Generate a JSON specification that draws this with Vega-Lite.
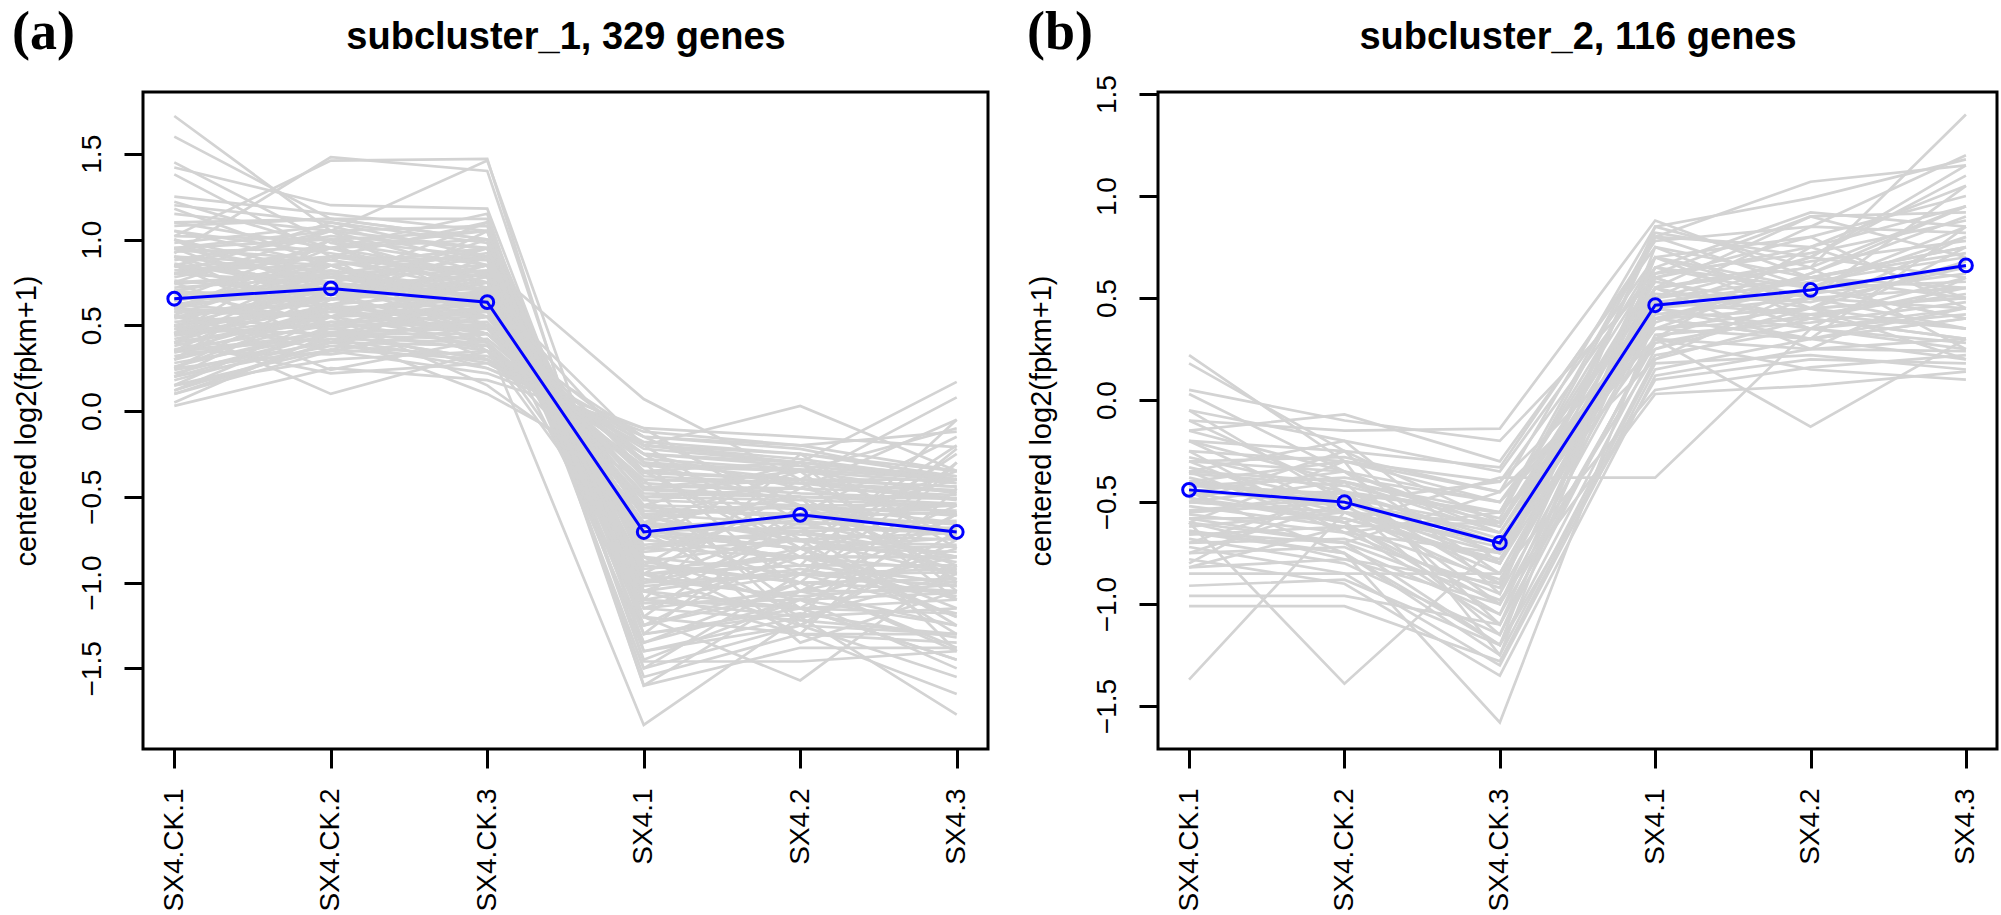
{
"$schema": "https://vega.github.io/schema/vega-lite/v6.json",
"background": "white",
"padding": {"left": 10, "top": 4, "right": 5, "bottom": 0},
"spacing": 35,
"config": {
 "view": {"stroke": "black", "strokeWidth": 3},
 "axis": {"labelFont": "Liberation Sans", "titleFont": "Liberation Sans", "labelColor": "black", "titleColor": "black", "tickColor": "black", "grid": false},
 "title": {"color": "black"}
},
"datasets": {
"am": [{"s":"SX4.CK.1","v":0.655},{"s":"SX4.CK.2","v":0.715},{"s":"SX4.CK.3","v":0.635},{"s":"SX4.1","v":-0.705},{"s":"SX4.2","v":-0.605},{"s":"SX4.3","v":-0.705}],
"bm": [{"s":"SX4.CK.1","v":-0.44},{"s":"SX4.CK.2","v":-0.5},{"s":"SX4.CK.3","v":-0.7},{"s":"SX4.1","v":0.465},{"s":"SX4.2","v":0.54},{"s":"SX4.3","v":0.66}],
"a": [
{"g":1,"s":"SX4.CK.1","v":1.72},{"g":1,"s":"SX4.CK.2","v":1.05},{"g":1,"s":"SX4.CK.3","v":0.95},{"g":1,"s":"SX4.1","v":-1.15},{"g":1,"s":"SX4.2","v":-1.22},{"g":1,"s":"SX4.3","v":-1.3},
{"g":2,"s":"SX4.CK.1","v":1.6},{"g":2,"s":"SX4.CK.2","v":1.12},{"g":2,"s":"SX4.CK.3","v":1.0},{"g":2,"s":"SX4.1","v":-1.05},{"g":2,"s":"SX4.2","v":-1.3},{"g":2,"s":"SX4.3","v":-1.35},
{"g":3,"s":"SX4.CK.1","v":0.92},{"g":3,"s":"SX4.CK.2","v":1.48},{"g":3,"s":"SX4.CK.3","v":1.4},{"g":3,"s":"SX4.1","v":-1.3},{"g":3,"s":"SX4.2","v":-1.18},{"g":3,"s":"SX4.3","v":-1.32},
{"g":4,"s":"SX4.CK.1","v":1.02},{"g":4,"s":"SX4.CK.2","v":1.46},{"g":4,"s":"SX4.CK.3","v":1.47},{"g":4,"s":"SX4.1","v":-1.4},{"g":4,"s":"SX4.2","v":-1.25},{"g":4,"s":"SX4.3","v":-1.3},
{"g":5,"s":"SX4.CK.1","v":0.85},{"g":5,"s":"SX4.CK.2","v":1.05},{"g":5,"s":"SX4.CK.3","v":1.46},{"g":5,"s":"SX4.1","v":-1.1},{"g":5,"s":"SX4.2","v":-1.15},{"g":5,"s":"SX4.3","v":-1.1},
{"g":6,"s":"SX4.CK.1","v":1.45},{"g":6,"s":"SX4.CK.2","v":0.98},{"g":6,"s":"SX4.CK.3","v":0.85},{"g":6,"s":"SX4.1","v":-0.95},{"g":6,"s":"SX4.2","v":-1.1},{"g":6,"s":"SX4.3","v":-1.25},
{"g":7,"s":"SX4.CK.1","v":1.42},{"g":7,"s":"SX4.CK.2","v":1.2},{"g":7,"s":"SX4.CK.3","v":1.18},{"g":7,"s":"SX4.1","v":-1.2},{"g":7,"s":"SX4.2","v":-1.3},{"g":7,"s":"SX4.3","v":-1.3},
{"g":8,"s":"SX4.CK.1","v":1.38},{"g":8,"s":"SX4.CK.2","v":0.9},{"g":8,"s":"SX4.CK.3","v":1.1},{"g":8,"s":"SX4.1","v":-1.05},{"g":8,"s":"SX4.2","v":-1.15},{"g":8,"s":"SX4.3","v":-1.18},
{"g":9,"s":"SX4.CK.1","v":1.25},{"g":9,"s":"SX4.CK.2","v":1.15},{"g":9,"s":"SX4.CK.3","v":1.05},{"g":9,"s":"SX4.1","v":-1.1},{"g":9,"s":"SX4.2","v":-1.2},{"g":9,"s":"SX4.3","v":-1.15},
{"g":10,"s":"SX4.CK.1","v":1.22},{"g":10,"s":"SX4.CK.2","v":0.95},{"g":10,"s":"SX4.CK.3","v":0.8},{"g":10,"s":"SX4.1","v":-1.0},{"g":10,"s":"SX4.2","v":-0.95},{"g":10,"s":"SX4.3","v":-1.02},
{"g":11,"s":"SX4.CK.1","v":1.2},{"g":11,"s":"SX4.CK.2","v":1.1},{"g":11,"s":"SX4.CK.3","v":0.98},{"g":11,"s":"SX4.1","v":-1.12},{"g":11,"s":"SX4.2","v":-1.1},{"g":11,"s":"SX4.3","v":-1.06},
{"g":12,"s":"SX4.CK.1","v":1.18},{"g":12,"s":"SX4.CK.2","v":0.85},{"g":12,"s":"SX4.CK.3","v":0.9},{"g":12,"s":"SX4.1","v":-0.88},{"g":12,"s":"SX4.2","v":-1.0},{"g":12,"s":"SX4.3","v":-1.05},
{"g":13,"s":"SX4.CK.1","v":1.1},{"g":13,"s":"SX4.CK.2","v":1.12},{"g":13,"s":"SX4.CK.3","v":1.12},{"g":13,"s":"SX4.1","v":-1.25},{"g":13,"s":"SX4.2","v":-1.05},{"g":13,"s":"SX4.3","v":-1.05},
{"g":14,"s":"SX4.CK.1","v":1.05},{"g":14,"s":"SX4.CK.2","v":0.92},{"g":14,"s":"SX4.CK.3","v":0.78},{"g":14,"s":"SX4.1","v":-0.95},{"g":14,"s":"SX4.2","v":-0.9},{"g":14,"s":"SX4.3","v":-0.9},
{"g":15,"s":"SX4.CK.1","v":1.02},{"g":15,"s":"SX4.CK.2","v":1.0},{"g":15,"s":"SX4.CK.3","v":1.05},{"g":15,"s":"SX4.1","v":-0.98},{"g":15,"s":"SX4.2","v":-1.08},{"g":15,"s":"SX4.3","v":-1.01},
{"g":16,"s":"SX4.CK.1","v":1.0},{"g":16,"s":"SX4.CK.2","v":0.8},{"g":16,"s":"SX4.CK.3","v":0.92},{"g":16,"s":"SX4.1","v":-0.85},{"g":16,"s":"SX4.2","v":-0.95},{"g":16,"s":"SX4.3","v":-0.92},
{"g":17,"s":"SX4.CK.1","v":0.98},{"g":17,"s":"SX4.CK.2","v":1.08},{"g":17,"s":"SX4.CK.3","v":0.85},{"g":17,"s":"SX4.1","v":-1.02},{"g":17,"s":"SX4.2","v":-0.95},{"g":17,"s":"SX4.3","v":-0.94},
{"g":18,"s":"SX4.CK.1","v":0.95},{"g":18,"s":"SX4.CK.2","v":0.88},{"g":18,"s":"SX4.CK.3","v":0.7},{"g":18,"s":"SX4.1","v":-0.75},{"g":18,"s":"SX4.2","v":-0.85},{"g":18,"s":"SX4.3","v":-0.93},
{"g":19,"s":"SX4.CK.1","v":0.93},{"g":19,"s":"SX4.CK.2","v":0.95},{"g":19,"s":"SX4.CK.3","v":1.0},{"g":19,"s":"SX4.1","v":-0.9},{"g":19,"s":"SX4.2","v":-1.0},{"g":19,"s":"SX4.3","v":-0.98},
{"g":20,"s":"SX4.CK.1","v":0.9},{"g":20,"s":"SX4.CK.2","v":0.78},{"g":20,"s":"SX4.CK.3","v":0.82},{"g":20,"s":"SX4.1","v":-0.8},{"g":20,"s":"SX4.2","v":-0.85},{"g":20,"s":"SX4.3","v":-0.85},
{"g":21,"s":"SX4.CK.1","v":0.88},{"g":21,"s":"SX4.CK.2","v":1.02},{"g":21,"s":"SX4.CK.3","v":0.95},{"g":21,"s":"SX4.1","v":-0.95},{"g":21,"s":"SX4.2","v":-0.9},{"g":21,"s":"SX4.3","v":-1.0},
{"g":22,"s":"SX4.CK.1","v":0.86},{"g":22,"s":"SX4.CK.2","v":0.7},{"g":22,"s":"SX4.CK.3","v":0.75},{"g":22,"s":"SX4.1","v":-0.72},{"g":22,"s":"SX4.2","v":-0.8},{"g":22,"s":"SX4.3","v":-0.79},
{"g":23,"s":"SX4.CK.1","v":0.84},{"g":23,"s":"SX4.CK.2","v":0.9},{"g":23,"s":"SX4.CK.3","v":0.88},{"g":23,"s":"SX4.1","v":-0.92},{"g":23,"s":"SX4.2","v":-0.85},{"g":23,"s":"SX4.3","v":-0.85},
{"g":24,"s":"SX4.CK.1","v":0.82},{"g":24,"s":"SX4.CK.2","v":0.85},{"g":24,"s":"SX4.CK.3","v":0.65},{"g":24,"s":"SX4.1","v":-0.7},{"g":24,"s":"SX4.2","v":-0.8},{"g":24,"s":"SX4.3","v":-0.82},
{"g":25,"s":"SX4.CK.1","v":0.8},{"g":25,"s":"SX4.CK.2","v":0.75},{"g":25,"s":"SX4.CK.3","v":0.9},{"g":25,"s":"SX4.1","v":-0.75},{"g":25,"s":"SX4.2","v":-0.85},{"g":25,"s":"SX4.3","v":-0.85},
{"g":26,"s":"SX4.CK.1","v":0.78},{"g":26,"s":"SX4.CK.2","v":0.95},{"g":26,"s":"SX4.CK.3","v":0.72},{"g":26,"s":"SX4.1","v":-0.82},{"g":26,"s":"SX4.2","v":-0.75},{"g":26,"s":"SX4.3","v":-0.88},
{"g":27,"s":"SX4.CK.1","v":0.76},{"g":27,"s":"SX4.CK.2","v":0.68},{"g":27,"s":"SX4.CK.3","v":0.8},{"g":27,"s":"SX4.1","v":-0.7},{"g":27,"s":"SX4.2","v":-0.76},{"g":27,"s":"SX4.3","v":-0.78},
{"g":28,"s":"SX4.CK.1","v":0.74},{"g":28,"s":"SX4.CK.2","v":0.82},{"g":28,"s":"SX4.CK.3","v":0.7},{"g":28,"s":"SX4.1","v":-0.72},{"g":28,"s":"SX4.2","v":-0.8},{"g":28,"s":"SX4.3","v":-0.74},
{"g":29,"s":"SX4.CK.1","v":0.72},{"g":29,"s":"SX4.CK.2","v":0.78},{"g":29,"s":"SX4.CK.3","v":0.62},{"g":29,"s":"SX4.1","v":-0.65},{"g":29,"s":"SX4.2","v":-0.72},{"g":29,"s":"SX4.3","v":-0.75},
{"g":30,"s":"SX4.CK.1","v":0.7},{"g":30,"s":"SX4.CK.2","v":0.88},{"g":30,"s":"SX4.CK.3","v":0.75},{"g":30,"s":"SX4.1","v":-0.78},{"g":30,"s":"SX4.2","v":-0.7},{"g":30,"s":"SX4.3","v":-0.85},
{"g":31,"s":"SX4.CK.1","v":0.68},{"g":31,"s":"SX4.CK.2","v":0.72},{"g":31,"s":"SX4.CK.3","v":0.68},{"g":31,"s":"SX4.1","v":-0.62},{"g":31,"s":"SX4.2","v":-0.75},{"g":31,"s":"SX4.3","v":-0.71},
{"g":32,"s":"SX4.CK.1","v":0.66},{"g":32,"s":"SX4.CK.2","v":0.65},{"g":32,"s":"SX4.CK.3","v":0.78},{"g":32,"s":"SX4.1","v":-0.7},{"g":32,"s":"SX4.2","v":-0.68},{"g":32,"s":"SX4.3","v":-0.71},
{"g":33,"s":"SX4.CK.1","v":0.64},{"g":33,"s":"SX4.CK.2","v":0.8},{"g":33,"s":"SX4.CK.3","v":0.6},{"g":33,"s":"SX4.1","v":-0.66},{"g":33,"s":"SX4.2","v":-0.7},{"g":33,"s":"SX4.3","v":-0.68},
{"g":34,"s":"SX4.CK.1","v":0.62},{"g":34,"s":"SX4.CK.2","v":0.7},{"g":34,"s":"SX4.CK.3","v":0.72},{"g":34,"s":"SX4.1","v":-0.68},{"g":34,"s":"SX4.2","v":-0.64},{"g":34,"s":"SX4.3","v":-0.72},
{"g":35,"s":"SX4.CK.1","v":0.6},{"g":35,"s":"SX4.CK.2","v":0.75},{"g":35,"s":"SX4.CK.3","v":0.66},{"g":35,"s":"SX4.1","v":-0.72},{"g":35,"s":"SX4.2","v":-0.6},{"g":35,"s":"SX4.3","v":-0.69},
{"g":36,"s":"SX4.CK.1","v":0.58},{"g":36,"s":"SX4.CK.2","v":0.62},{"g":36,"s":"SX4.CK.3","v":0.7},{"g":36,"s":"SX4.1","v":-0.6},{"g":36,"s":"SX4.2","v":-0.66},{"g":36,"s":"SX4.3","v":-0.64},
{"g":37,"s":"SX4.CK.1","v":0.56},{"g":37,"s":"SX4.CK.2","v":0.85},{"g":37,"s":"SX4.CK.3","v":0.58},{"g":37,"s":"SX4.1","v":-0.68},{"g":37,"s":"SX4.2","v":-0.62},{"g":37,"s":"SX4.3","v":-0.69},
{"g":38,"s":"SX4.CK.1","v":0.54},{"g":38,"s":"SX4.CK.2","v":0.68},{"g":38,"s":"SX4.CK.3","v":0.62},{"g":38,"s":"SX4.1","v":-0.58},{"g":38,"s":"SX4.2","v":-0.6},{"g":38,"s":"SX4.3","v":-0.66},
{"g":39,"s":"SX4.CK.1","v":0.52},{"g":39,"s":"SX4.CK.2","v":0.58},{"g":39,"s":"SX4.CK.3","v":0.68},{"g":39,"s":"SX4.1","v":-0.62},{"g":39,"s":"SX4.2","v":-0.55},{"g":39,"s":"SX4.3","v":-0.61},
{"g":40,"s":"SX4.CK.1","v":0.5},{"g":40,"s":"SX4.CK.2","v":0.72},{"g":40,"s":"SX4.CK.3","v":0.55},{"g":40,"s":"SX4.1","v":-0.56},{"g":40,"s":"SX4.2","v":-0.62},{"g":40,"s":"SX4.3","v":-0.59},
{"g":41,"s":"SX4.CK.1","v":0.48},{"g":41,"s":"SX4.CK.2","v":0.6},{"g":41,"s":"SX4.CK.3","v":0.62},{"g":41,"s":"SX4.1","v":-0.55},{"g":41,"s":"SX4.2","v":-0.57},{"g":41,"s":"SX4.3","v":-0.58},
{"g":42,"s":"SX4.CK.1","v":0.46},{"g":42,"s":"SX4.CK.2","v":0.66},{"g":42,"s":"SX4.CK.3","v":0.5},{"g":42,"s":"SX4.1","v":-0.52},{"g":42,"s":"SX4.2","v":-0.55},{"g":42,"s":"SX4.3","v":-0.55},
{"g":43,"s":"SX4.CK.1","v":0.44},{"g":43,"s":"SX4.CK.2","v":0.55},{"g":43,"s":"SX4.CK.3","v":0.58},{"g":43,"s":"SX4.1","v":-0.5},{"g":43,"s":"SX4.2","v":-0.52},{"g":43,"s":"SX4.3","v":-0.55},
{"g":44,"s":"SX4.CK.1","v":0.42},{"g":44,"s":"SX4.CK.2","v":0.62},{"g":44,"s":"SX4.CK.3","v":0.48},{"g":44,"s":"SX4.1","v":-0.48},{"g":44,"s":"SX4.2","v":-0.5},{"g":44,"s":"SX4.3","v":-0.54},
{"g":45,"s":"SX4.CK.1","v":0.4},{"g":45,"s":"SX4.CK.2","v":0.52},{"g":45,"s":"SX4.CK.3","v":0.55},{"g":45,"s":"SX4.1","v":-0.46},{"g":45,"s":"SX4.2","v":-0.5},{"g":45,"s":"SX4.3","v":-0.51},
{"g":46,"s":"SX4.CK.1","v":0.38},{"g":46,"s":"SX4.CK.2","v":0.58},{"g":46,"s":"SX4.CK.3","v":0.45},{"g":46,"s":"SX4.1","v":-0.42},{"g":46,"s":"SX4.2","v":-0.48},{"g":46,"s":"SX4.3","v":-0.51},
{"g":47,"s":"SX4.CK.1","v":0.36},{"g":47,"s":"SX4.CK.2","v":0.5},{"g":47,"s":"SX4.CK.3","v":0.52},{"g":47,"s":"SX4.1","v":-0.44},{"g":47,"s":"SX4.2","v":-0.45},{"g":47,"s":"SX4.3","v":-0.49},
{"g":48,"s":"SX4.CK.1","v":0.34},{"g":48,"s":"SX4.CK.2","v":0.55},{"g":48,"s":"SX4.CK.3","v":0.4},{"g":48,"s":"SX4.1","v":-0.4},{"g":48,"s":"SX4.2","v":-0.42},{"g":48,"s":"SX4.3","v":-0.47},
{"g":49,"s":"SX4.CK.1","v":0.32},{"g":49,"s":"SX4.CK.2","v":0.46},{"g":49,"s":"SX4.CK.3","v":0.48},{"g":49,"s":"SX4.1","v":-0.38},{"g":49,"s":"SX4.2","v":-0.42},{"g":49,"s":"SX4.3","v":-0.46},
{"g":50,"s":"SX4.CK.1","v":0.3},{"g":50,"s":"SX4.CK.2","v":0.52},{"g":50,"s":"SX4.CK.3","v":0.38},{"g":50,"s":"SX4.1","v":-0.36},{"g":50,"s":"SX4.2","v":-0.4},{"g":50,"s":"SX4.3","v":-0.44},
{"g":51,"s":"SX4.CK.1","v":0.28},{"g":51,"s":"SX4.CK.2","v":0.44},{"g":51,"s":"SX4.CK.3","v":0.42},{"g":51,"s":"SX4.1","v":-0.3},{"g":51,"s":"SX4.2","v":-0.4},{"g":51,"s":"SX4.3","v":-0.44},
{"g":52,"s":"SX4.CK.1","v":0.26},{"g":52,"s":"SX4.CK.2","v":0.48},{"g":52,"s":"SX4.CK.3","v":0.35},{"g":52,"s":"SX4.1","v":-0.32},{"g":52,"s":"SX4.2","v":-0.35},{"g":52,"s":"SX4.3","v":-0.42},
{"g":53,"s":"SX4.CK.1","v":0.24},{"g":53,"s":"SX4.CK.2","v":0.4},{"g":53,"s":"SX4.CK.3","v":0.38},{"g":53,"s":"SX4.1","v":-0.28},{"g":53,"s":"SX4.2","v":-0.34},{"g":53,"s":"SX4.3","v":-0.4},
{"g":54,"s":"SX4.CK.1","v":0.22},{"g":54,"s":"SX4.CK.2","v":0.45},{"g":54,"s":"SX4.CK.3","v":0.3},{"g":54,"s":"SX4.1","v":-0.25},{"g":54,"s":"SX4.2","v":-0.32},{"g":54,"s":"SX4.3","v":-0.4},
{"g":55,"s":"SX4.CK.1","v":0.2},{"g":55,"s":"SX4.CK.2","v":0.38},{"g":55,"s":"SX4.CK.3","v":0.32},{"g":55,"s":"SX4.1","v":-0.22},{"g":55,"s":"SX4.2","v":-0.3},{"g":55,"s":"SX4.3","v":-0.38},
{"g":56,"s":"SX4.CK.1","v":0.18},{"g":56,"s":"SX4.CK.2","v":0.42},{"g":56,"s":"SX4.CK.3","v":0.28},{"g":56,"s":"SX4.1","v":-0.2},{"g":56,"s":"SX4.2","v":-0.28},{"g":56,"s":"SX4.3","v":-0.4},
{"g":57,"s":"SX4.CK.1","v":0.15},{"g":57,"s":"SX4.CK.2","v":0.36},{"g":57,"s":"SX4.CK.3","v":0.3},{"g":57,"s":"SX4.1","v":-0.18},{"g":57,"s":"SX4.2","v":-0.25},{"g":57,"s":"SX4.3","v":-0.38},
{"g":58,"s":"SX4.CK.1","v":0.12},{"g":58,"s":"SX4.CK.2","v":0.4},{"g":58,"s":"SX4.CK.3","v":0.25},{"g":58,"s":"SX4.1","v":-0.15},{"g":58,"s":"SX4.2","v":-0.22},{"g":58,"s":"SX4.3","v":-0.4},
{"g":59,"s":"SX4.CK.1","v":0.1},{"g":59,"s":"SX4.CK.2","v":0.35},{"g":59,"s":"SX4.CK.3","v":0.22},{"g":59,"s":"SX4.1","v":-0.12},{"g":59,"s":"SX4.2","v":-0.2},{"g":59,"s":"SX4.3","v":-0.35},
{"g":60,"s":"SX4.CK.1","v":0.05},{"g":60,"s":"SX4.CK.2","v":0.45},{"g":60,"s":"SX4.CK.3","v":0.3},{"g":60,"s":"SX4.1","v":-0.2},{"g":60,"s":"SX4.2","v":-0.25},{"g":60,"s":"SX4.3","v":-0.35},
{"g":61,"s":"SX4.CK.1","v":0.03},{"g":61,"s":"SX4.CK.2","v":0.25},{"g":61,"s":"SX4.CK.3","v":0.18},{"g":61,"s":"SX4.1","v":-0.1},{"g":61,"s":"SX4.2","v":-0.15},{"g":61,"s":"SX4.3","v":-0.21},
{"g":62,"s":"SX4.CK.1","v":0.5},{"g":62,"s":"SX4.CK.2","v":0.1},{"g":62,"s":"SX4.CK.3","v":0.35},{"g":62,"s":"SX4.1","v":-0.25},{"g":62,"s":"SX4.2","v":-0.3},{"g":62,"s":"SX4.3","v":-0.4},
{"g":63,"s":"SX4.CK.1","v":0.4},{"g":63,"s":"SX4.CK.2","v":0.22},{"g":63,"s":"SX4.CK.3","v":0.28},{"g":63,"s":"SX4.1","v":-0.2},{"g":63,"s":"SX4.2","v":-0.3},{"g":63,"s":"SX4.3","v":-0.4},
{"g":64,"s":"SX4.CK.1","v":0.35},{"g":64,"s":"SX4.CK.2","v":0.33},{"g":64,"s":"SX4.CK.3","v":0.45},{"g":64,"s":"SX4.1","v":-0.3},{"g":64,"s":"SX4.2","v":-0.35},{"g":64,"s":"SX4.3","v":-0.48},
{"g":65,"s":"SX4.CK.1","v":0.6},{"g":65,"s":"SX4.CK.2","v":0.24},{"g":65,"s":"SX4.CK.3","v":0.42},{"g":65,"s":"SX4.1","v":-0.35},{"g":65,"s":"SX4.2","v":-0.4},{"g":65,"s":"SX4.3","v":-0.51},
{"g":66,"s":"SX4.CK.1","v":0.55},{"g":66,"s":"SX4.CK.2","v":0.7},{"g":66,"s":"SX4.CK.3","v":0.4},{"g":66,"s":"SX4.1","v":-1.83},{"g":66,"s":"SX4.2","v":-1.2},{"g":66,"s":"SX4.3","v":-0.95},
{"g":67,"s":"SX4.CK.1","v":0.7},{"g":67,"s":"SX4.CK.2","v":0.62},{"g":67,"s":"SX4.CK.3","v":0.85},{"g":67,"s":"SX4.1","v":0.07},{"g":67,"s":"SX4.2","v":-0.4},{"g":67,"s":"SX4.3","v":-0.4},
{"g":68,"s":"SX4.CK.1","v":0.45},{"g":68,"s":"SX4.CK.2","v":0.5},{"g":68,"s":"SX4.CK.3","v":0.7},{"g":68,"s":"SX4.1","v":-0.2},{"g":68,"s":"SX4.2","v":0.03},{"g":68,"s":"SX4.3","v":-0.35},
{"g":69,"s":"SX4.CK.1","v":0.4},{"g":69,"s":"SX4.CK.2","v":0.55},{"g":69,"s":"SX4.CK.3","v":0.6},{"g":69,"s":"SX4.1","v":-0.35},{"g":69,"s":"SX4.2","v":-0.3},{"g":69,"s":"SX4.3","v":0.17},
{"g":70,"s":"SX4.CK.1","v":0.35},{"g":70,"s":"SX4.CK.2","v":0.45},{"g":70,"s":"SX4.CK.3","v":0.5},{"g":70,"s":"SX4.1","v":-0.45},{"g":70,"s":"SX4.2","v":-0.4},{"g":70,"s":"SX4.3","v":0.08},
{"g":71,"s":"SX4.CK.1","v":0.5},{"g":71,"s":"SX4.CK.2","v":0.6},{"g":71,"s":"SX4.CK.3","v":0.45},{"g":71,"s":"SX4.1","v":-0.15},{"g":71,"s":"SX4.2","v":-0.2},{"g":71,"s":"SX4.3","v":-0.12},
{"g":72,"s":"SX4.CK.1","v":0.85},{"g":72,"s":"SX4.CK.2","v":0.75},{"g":72,"s":"SX4.CK.3","v":0.6},{"g":72,"s":"SX4.1","v":-1.2},{"g":72,"s":"SX4.2","v":-1.57},{"g":72,"s":"SX4.3","v":-0.9},
{"g":73,"s":"SX4.CK.1","v":0.95},{"g":73,"s":"SX4.CK.2","v":1.0},{"g":73,"s":"SX4.CK.3","v":0.9},{"g":73,"s":"SX4.1","v":-1.4},{"g":73,"s":"SX4.2","v":-1.2},{"g":73,"s":"SX4.3","v":-1.77},
{"g":74,"s":"SX4.CK.1","v":1.1},{"g":74,"s":"SX4.CK.2","v":0.95},{"g":74,"s":"SX4.CK.3","v":1.05},{"g":74,"s":"SX4.1","v":-1.6},{"g":74,"s":"SX4.2","v":-1.38},{"g":74,"s":"SX4.3","v":-1.38},
{"g":75,"s":"SX4.CK.1","v":1.15},{"g":75,"s":"SX4.CK.2","v":1.05},{"g":75,"s":"SX4.CK.3","v":1.08},{"g":75,"s":"SX4.1","v":-1.46},{"g":75,"s":"SX4.2","v":-1.46},{"g":75,"s":"SX4.3","v":-1.4},
{"g":76,"s":"SX4.CK.1","v":1.08},{"g":76,"s":"SX4.CK.2","v":1.12},{"g":76,"s":"SX4.CK.3","v":1.0},{"g":76,"s":"SX4.1","v":-1.55},{"g":76,"s":"SX4.2","v":-1.3},{"g":76,"s":"SX4.3","v":-1.65},
{"g":77,"s":"SX4.CK.1","v":0.9},{"g":77,"s":"SX4.CK.2","v":0.85},{"g":77,"s":"SX4.CK.3","v":0.95},{"g":77,"s":"SX4.1","v":-1.5},{"g":77,"s":"SX4.2","v":-1.25},{"g":77,"s":"SX4.3","v":-1.55},
{"g":78,"s":"SX4.CK.1","v":0.8},{"g":78,"s":"SX4.CK.2","v":0.9},{"g":78,"s":"SX4.CK.3","v":0.78},{"g":78,"s":"SX4.1","v":-1.35},{"g":78,"s":"SX4.2","v":-1.1},{"g":78,"s":"SX4.3","v":-1.5},
{"g":79,"s":"SX4.CK.1","v":0.75},{"g":79,"s":"SX4.CK.2","v":0.8},{"g":79,"s":"SX4.CK.3","v":0.85},{"g":79,"s":"SX4.1","v":-1.3},{"g":79,"s":"SX4.2","v":-1.15},{"g":79,"s":"SX4.3","v":-1.45},
{"g":80,"s":"SX4.CK.1","v":0.65},{"g":80,"s":"SX4.CK.2","v":0.72},{"g":80,"s":"SX4.CK.3","v":0.8},{"g":80,"s":"SX4.1","v":-1.25},{"g":80,"s":"SX4.2","v":-1.0},{"g":80,"s":"SX4.3","v":-1.38},
{"g":81,"s":"SX4.CK.1","v":0.62},{"g":81,"s":"SX4.CK.2","v":0.78},{"g":81,"s":"SX4.CK.3","v":0.7},{"g":81,"s":"SX4.1","v":-1.15},{"g":81,"s":"SX4.2","v":-1.05},{"g":81,"s":"SX4.3","v":-1.25},
{"g":82,"s":"SX4.CK.1","v":0.7},{"g":82,"s":"SX4.CK.2","v":0.65},{"g":82,"s":"SX4.CK.3","v":0.72},{"g":82,"s":"SX4.1","v":-1.1},{"g":82,"s":"SX4.2","v":-0.95},{"g":82,"s":"SX4.3","v":-1.18},
{"g":83,"s":"SX4.CK.1","v":0.58},{"g":83,"s":"SX4.CK.2","v":0.55},{"g":83,"s":"SX4.CK.3","v":0.62},{"g":83,"s":"SX4.1","v":-1.05},{"g":83,"s":"SX4.2","v":-0.92},{"g":83,"s":"SX4.3","v":-1.08},
{"g":84,"s":"SX4.CK.1","v":0.45},{"g":84,"s":"SX4.CK.2","v":0.6},{"g":84,"s":"SX4.CK.3","v":0.65},{"g":84,"s":"SX4.1","v":-1.0},{"g":84,"s":"SX4.2","v":-0.8},{"g":84,"s":"SX4.3","v":-1.1},
{"g":85,"s":"SX4.CK.1","v":0.55},{"g":85,"s":"SX4.CK.2","v":0.48},{"g":85,"s":"SX4.CK.3","v":0.58},{"g":85,"s":"SX4.1","v":-0.95},{"g":85,"s":"SX4.2","v":-0.85},{"g":85,"s":"SX4.3","v":-1.02},
{"g":86,"s":"SX4.CK.1","v":0.35},{"g":86,"s":"SX4.CK.2","v":0.42},{"g":86,"s":"SX4.CK.3","v":0.4},{"g":86,"s":"SX4.1","v":-0.88},{"g":86,"s":"SX4.2","v":-0.75},{"g":86,"s":"SX4.3","v":-0.95},
{"g":87,"s":"SX4.CK.1","v":0.25},{"g":87,"s":"SX4.CK.2","v":0.35},{"g":87,"s":"SX4.CK.3","v":0.5},{"g":87,"s":"SX4.1","v":-0.8},{"g":87,"s":"SX4.2","v":-0.7},{"g":87,"s":"SX4.3","v":-0.92},
{"g":88,"s":"SX4.CK.1","v":0.15},{"g":88,"s":"SX4.CK.2","v":0.3},{"g":88,"s":"SX4.CK.3","v":0.35},{"g":88,"s":"SX4.1","v":-0.6},{"g":88,"s":"SX4.2","v":-0.55},{"g":88,"s":"SX4.3","v":-0.72},
{"g":89,"s":"SX4.CK.1","v":0.62},{"g":89,"s":"SX4.CK.2","v":0.55},{"g":89,"s":"SX4.CK.3","v":0.15},{"g":89,"s":"SX4.1","v":-0.5},{"g":89,"s":"SX4.2","v":-0.45},{"g":89,"s":"SX4.3","v":-0.6},
{"g":90,"s":"SX4.CK.1","v":0.48},{"g":90,"s":"SX4.CK.2","v":0.45},{"g":90,"s":"SX4.CK.3","v":0.1},{"g":90,"s":"SX4.1","v":-0.4},{"g":90,"s":"SX4.2","v":-0.42},{"g":90,"s":"SX4.3","v":-0.52},
{"g":91,"s":"SX4.CK.1","v":0.95},{"g":91,"s":"SX4.CK.2","v":0.6},{"g":91,"s":"SX4.CK.3","v":0.45},{"g":91,"s":"SX4.1","v":-0.3},{"g":91,"s":"SX4.2","v":-0.55},{"g":91,"s":"SX4.3","v":-0.98},
{"g":92,"s":"SX4.CK.1","v":0.3},{"g":92,"s":"SX4.CK.2","v":0.75},{"g":92,"s":"SX4.CK.3","v":0.95},{"g":92,"s":"SX4.1","v":-1.05},{"g":92,"s":"SX4.2","v":-0.7},{"g":92,"s":"SX4.3","v":-0.35},
{"g":93,"s":"SX4.CK.1","v":0.75},{"g":93,"s":"SX4.CK.2","v":0.4},{"g":93,"s":"SX4.CK.3","v":0.55},{"g":93,"s":"SX4.1","v":-0.55},{"g":93,"s":"SX4.2","v":-0.95},{"g":93,"s":"SX4.3","v":-0.22},
{"g":94,"s":"SX4.CK.1","v":0.2},{"g":94,"s":"SX4.CK.2","v":0.65},{"g":94,"s":"SX4.CK.3","v":0.85},{"g":94,"s":"SX4.1","v":-1.3},{"g":94,"s":"SX4.2","v":-0.6},{"g":94,"s":"SX4.3","v":-0.15},
{"g":95,"s":"SX4.CK.1","v":1.0},{"g":95,"s":"SX4.CK.2","v":0.7},{"g":95,"s":"SX4.CK.3","v":0.3},{"g":95,"s":"SX4.1","v":-0.25},{"g":95,"s":"SX4.2","v":-0.8},{"g":95,"s":"SX4.3","v":-1.2},
{"g":96,"s":"SX4.CK.1","v":0.6},{"g":96,"s":"SX4.CK.2","v":0.95},{"g":96,"s":"SX4.CK.3","v":1.15},{"g":96,"s":"SX4.1","v":-1.45},{"g":96,"s":"SX4.2","v":-1.1},{"g":96,"s":"SX4.3","v":-0.8},
{"g":97,"s":"SX4.CK.1","v":0.45},{"g":97,"s":"SX4.CK.2","v":0.85},{"g":97,"s":"SX4.CK.3","v":0.5},{"g":97,"s":"SX4.1","v":-0.2},{"g":97,"s":"SX4.2","v":-0.75},{"g":97,"s":"SX4.3","v":-1.3},
{"g":98,"s":"SX4.CK.1","v":0.85},{"g":98,"s":"SX4.CK.2","v":0.45},{"g":98,"s":"SX4.CK.3","v":0.6},{"g":98,"s":"SX4.1","v":-0.65},{"g":98,"s":"SX4.2","v":-0.35},{"g":98,"s":"SX4.3","v":-1.0},
{"g":99,"s":"SX4.CK.1","v":0.15},{"g":99,"s":"SX4.CK.2","v":0.55},{"g":99,"s":"SX4.CK.3","v":0.75},{"g":99,"s":"SX4.1","v":-0.95},{"g":99,"s":"SX4.2","v":-0.45},{"g":99,"s":"SX4.3","v":-0.05},
{"g":100,"s":"SX4.CK.1","v":0.65},{"g":100,"s":"SX4.CK.2","v":1.0},{"g":100,"s":"SX4.CK.3","v":0.4},{"g":100,"s":"SX4.1","v":-0.4},{"g":100,"s":"SX4.2","v":-1.25},{"g":100,"s":"SX4.3","v":-0.7},
{"g":101,"s":"SX4.CK.1","v":0.9},{"g":101,"s":"SX4.CK.2","v":0.65},{"g":101,"s":"SX4.CK.3","v":0.95},{"g":101,"s":"SX4.1","v":-1.2},{"g":101,"s":"SX4.2","v":-0.55},{"g":101,"s":"SX4.3","v":-0.65},
{"g":102,"s":"SX4.CK.1","v":0.35},{"g":102,"s":"SX4.CK.2","v":0.8},{"g":102,"s":"SX4.CK.3","v":0.65},{"g":102,"s":"SX4.1","v":-0.75},{"g":102,"s":"SX4.2","v":-0.3},{"g":102,"s":"SX4.3","v":-0.75},
{"g":103,"s":"SX4.CK.1","v":0.55},{"g":103,"s":"SX4.CK.2","v":0.35},{"g":103,"s":"SX4.CK.3","v":0.8},{"g":103,"s":"SX4.1","v":-1.15},{"g":103,"s":"SX4.2","v":-0.85},{"g":103,"s":"SX4.3","v":-0.25},
{"g":104,"s":"SX4.CK.1","v":1.05},{"g":104,"s":"SX4.CK.2","v":0.85},{"g":104,"s":"SX4.CK.3","v":0.55},{"g":104,"s":"SX4.1","v":-0.5},{"g":104,"s":"SX4.2","v":-1.15},{"g":104,"s":"SX4.3","v":-1.45},
{"g":105,"s":"SX4.CK.1","v":0.25},{"g":105,"s":"SX4.CK.2","v":0.6},{"g":105,"s":"SX4.CK.3","v":0.55},{"g":105,"s":"SX4.1","v":-0.6},{"g":105,"s":"SX4.2","v":-0.9},{"g":105,"s":"SX4.3","v":-0.05},
{"g":106,"s":"SX4.CK.1","v":0.8},{"g":106,"s":"SX4.CK.2","v":1.1},{"g":106,"s":"SX4.CK.3","v":0.9},{"g":106,"s":"SX4.1","v":-1.5},{"g":106,"s":"SX4.2","v":-0.95},{"g":106,"s":"SX4.3","v":-0.55},
{"g":107,"s":"SX4.CK.1","v":0.7},{"g":107,"s":"SX4.CK.2","v":0.5},{"g":107,"s":"SX4.CK.3","v":0.25},{"g":107,"s":"SX4.1","v":-0.1},{"g":107,"s":"SX4.2","v":-0.65},{"g":107,"s":"SX4.3","v":-0.85},
{"g":108,"s":"SX4.CK.1","v":0.4},{"g":108,"s":"SX4.CK.2","v":0.7},{"g":108,"s":"SX4.CK.3","v":1.0},{"g":108,"s":"SX4.1","v":-0.85},{"g":108,"s":"SX4.2","v":-1.3},{"g":108,"s":"SX4.3","v":-0.45},
{"g":109,"s":"SX4.CK.1","v":0.95},{"g":109,"s":"SX4.CK.2","v":0.8},{"g":109,"s":"SX4.CK.3","v":0.65},{"g":109,"s":"SX4.1","v":-0.45},{"g":109,"s":"SX4.2","v":-0.5},{"g":109,"s":"SX4.3","v":-1.4},
{"g":110,"s":"SX4.CK.1","v":0.12},{"g":110,"s":"SX4.CK.2","v":0.5},{"g":110,"s":"SX4.CK.3","v":0.6},{"g":110,"s":"SX4.1","v":-0.35},{"g":110,"s":"SX4.2","v":-0.8},{"g":110,"s":"SX4.3","v":-0.2},
{"g":111,"s":"SX4.CK.1","v":0.6},{"g":111,"s":"SX4.CK.2","v":0.9},{"g":111,"s":"SX4.CK.3","v":0.35},{"g":111,"s":"SX4.1","v":-0.9},{"g":111,"s":"SX4.2","v":-0.4},{"g":111,"s":"SX4.3","v":-1.1},
{"g":112,"s":"SX4.CK.1","v":0.85},{"g":112,"s":"SX4.CK.2","v":0.6},{"g":112,"s":"SX4.CK.3","v":1.05},{"g":112,"s":"SX4.1","v":-1.35},{"g":112,"s":"SX4.2","v":-1.0},{"g":112,"s":"SX4.3","v":-0.3},
{"g":113,"s":"SX4.CK.1","v":0.5},{"g":113,"s":"SX4.CK.2","v":0.4},{"g":113,"s":"SX4.CK.3","v":0.7},{"g":113,"s":"SX4.1","v":-0.3},{"g":113,"s":"SX4.2","v":-1.05},{"g":113,"s":"SX4.3","v":-0.6},
{"g":114,"s":"SX4.CK.1","v":0.3},{"g":114,"s":"SX4.CK.2","v":0.9},{"g":114,"s":"SX4.CK.3","v":0.8},{"g":114,"s":"SX4.1","v":-1.1},{"g":114,"s":"SX4.2","v":-0.25},{"g":114,"s":"SX4.3","v":-0.8},
{"g":115,"s":"SX4.CK.1","v":0.75},{"g":115,"s":"SX4.CK.2","v":1.05},{"g":115,"s":"SX4.CK.3","v":0.6},{"g":115,"s":"SX4.1","v":-0.6},{"g":115,"s":"SX4.2","v":-1.35},{"g":115,"s":"SX4.3","v":-1.05},
{"g":116,"s":"SX4.CK.1","v":1.0},{"g":116,"s":"SX4.CK.2","v":0.55},{"g":116,"s":"SX4.CK.3","v":0.75},{"g":116,"s":"SX4.1","v":-0.8},{"g":116,"s":"SX4.2","v":-0.7},{"g":116,"s":"SX4.3","v":-1.25},
{"g":117,"s":"SX4.CK.1","v":0.2},{"g":117,"s":"SX4.CK.2","v":0.45},{"g":117,"s":"SX4.CK.3","v":0.45},{"g":117,"s":"SX4.1","v":-0.25},{"g":117,"s":"SX4.2","v":-0.45},{"g":117,"s":"SX4.3","v":-0.6},
{"g":118,"s":"SX4.CK.1","v":0.65},{"g":118,"s":"SX4.CK.2","v":0.75},{"g":118,"s":"SX4.CK.3","v":1.1},{"g":118,"s":"SX4.1","v":-1.6},{"g":118,"s":"SX4.2","v":-1.05},{"g":118,"s":"SX4.3","v":-0.85},
{"g":119,"s":"SX4.CK.1","v":0.45},{"g":119,"s":"SX4.CK.2","v":1.0},{"g":119,"s":"SX4.CK.3","v":0.75},{"g":119,"s":"SX4.1","v":-0.7},{"g":119,"s":"SX4.2","v":-1.2},{"g":119,"s":"SX4.3","v":-0.3},
{"g":120,"s":"SX4.CK.1","v":0.9},{"g":120,"s":"SX4.CK.2","v":0.5},{"g":120,"s":"SX4.CK.3","v":0.5},{"g":120,"s":"SX4.1","v":-0.55},{"g":120,"s":"SX4.2","v":-0.3},{"g":120,"s":"SX4.3","v":-1.05},
{"g":121,"s":"SX4.CK.1","v":0.55},{"g":121,"s":"SX4.CK.2","v":0.65},{"g":121,"s":"SX4.CK.3","v":0.85},{"g":121,"s":"SX4.1","v":-1.0},{"g":121,"s":"SX4.2","v":-0.65},{"g":121,"s":"SX4.3","v":-0.4},
{"g":122,"s":"SX4.CK.1","v":0.35},{"g":122,"s":"SX4.CK.2","v":0.6},{"g":122,"s":"SX4.CK.3","v":0.35},{"g":122,"s":"SX4.1","v":-0.15},{"g":122,"s":"SX4.2","v":-0.55},{"g":122,"s":"SX4.3","v":-0.9},
{"g":123,"s":"SX4.CK.1","v":0.8},{"g":123,"s":"SX4.CK.2","v":0.95},{"g":123,"s":"SX4.CK.3","v":0.7},{"g":123,"s":"SX4.1","v":-0.85},{"g":123,"s":"SX4.2","v":-1.15},{"g":123,"s":"SX4.3","v":-0.6},
{"g":124,"s":"SX4.CK.1","v":0.1},{"g":124,"s":"SX4.CK.2","v":0.4},{"g":124,"s":"SX4.CK.3","v":0.55},{"g":124,"s":"SX4.1","v":-0.45},{"g":124,"s":"SX4.2","v":-0.35},{"g":124,"s":"SX4.3","v":-0.1},
{"g":125,"s":"SX4.CK.1","v":0.7},{"g":125,"s":"SX4.CK.2","v":0.85},{"g":125,"s":"SX4.CK.3","v":0.95},{"g":125,"s":"SX4.1","v":-1.25},{"g":125,"s":"SX4.2","v":-0.8},{"g":125,"s":"SX4.3","v":-1.15},
{"g":126,"s":"SX4.CK.1","v":0.95},{"g":126,"s":"SX4.CK.2","v":1.05},{"g":126,"s":"SX4.CK.3","v":0.8},{"g":126,"s":"SX4.1","v":-0.7},{"g":126,"s":"SX4.2","v":-1.0},{"g":126,"s":"SX4.3","v":-1.4},
{"g":127,"s":"SX4.CK.1","v":0.25},{"g":127,"s":"SX4.CK.2","v":0.7},{"g":127,"s":"SX4.CK.3","v":0.65},{"g":127,"s":"SX4.1","v":-0.8},{"g":127,"s":"SX4.2","v":-0.6},{"g":127,"s":"SX4.3","v":-0.55},
{"g":128,"s":"SX4.CK.1","v":0.6},{"g":128,"s":"SX4.CK.2","v":0.55},{"g":128,"s":"SX4.CK.3","v":0.9},{"g":128,"s":"SX4.1","v":-0.95},{"g":128,"s":"SX4.2","v":-1.25},{"g":128,"s":"SX4.3","v":-0.75},
{"g":129,"s":"SX4.CK.1","v":0.85},{"g":129,"s":"SX4.CK.2","v":0.75},{"g":129,"s":"SX4.CK.3","v":0.45},{"g":129,"s":"SX4.1","v":-0.35},{"g":129,"s":"SX4.2","v":-0.85},{"g":129,"s":"SX4.3","v":-1.2},
{"g":130,"s":"SX4.CK.1","v":0.4},{"g":130,"s":"SX4.CK.2","v":0.85},{"g":130,"s":"SX4.CK.3","v":0.6},{"g":130,"s":"SX4.1","v":-0.65},{"g":130,"s":"SX4.2","v":-0.5},{"g":130,"s":"SX4.3","v":-0.95}
],
"b": [
{"g":1,"s":"SX4.CK.1","v":0.22},{"g":1,"s":"SX4.CK.2","v":-0.3},{"g":1,"s":"SX4.CK.3","v":-0.45},{"g":1,"s":"SX4.1","v":0.3},{"g":1,"s":"SX4.2","v":0.15},{"g":1,"s":"SX4.3","v":0.1},
{"g":2,"s":"SX4.CK.1","v":0.18},{"g":2,"s":"SX4.CK.2","v":-0.25},{"g":2,"s":"SX4.CK.3","v":-0.6},{"g":2,"s":"SX4.1","v":0.45},{"g":2,"s":"SX4.2","v":0.3},{"g":2,"s":"SX4.3","v":0.2},
{"g":3,"s":"SX4.CK.1","v":0.05},{"g":3,"s":"SX4.CK.2","v":-0.1},{"g":3,"s":"SX4.CK.3","v":-0.2},{"g":3,"s":"SX4.1","v":0.6},{"g":3,"s":"SX4.2","v":0.35},{"g":3,"s":"SX4.3","v":0.25},
{"g":4,"s":"SX4.CK.1","v":0.03},{"g":4,"s":"SX4.CK.2","v":-0.35},{"g":4,"s":"SX4.CK.3","v":-0.5},{"g":4,"s":"SX4.1","v":0.55},{"g":4,"s":"SX4.2","v":0.4},{"g":4,"s":"SX4.3","v":0.3},
{"g":5,"s":"SX4.CK.1","v":-0.05},{"g":5,"s":"SX4.CK.2","v":-0.2},{"g":5,"s":"SX4.CK.3","v":-0.35},{"g":5,"s":"SX4.1","v":0.7},{"g":5,"s":"SX4.2","v":0.55},{"g":5,"s":"SX4.3","v":0.4},
{"g":6,"s":"SX4.CK.1","v":-0.1},{"g":6,"s":"SX4.CK.2","v":-0.15},{"g":6,"s":"SX4.CK.3","v":-0.14},{"g":6,"s":"SX4.1","v":0.88},{"g":6,"s":"SX4.2","v":0.6},{"g":6,"s":"SX4.3","v":0.5},
{"g":7,"s":"SX4.CK.1","v":-0.15},{"g":7,"s":"SX4.CK.2","v":-0.07},{"g":7,"s":"SX4.CK.3","v":-0.3},{"g":7,"s":"SX4.1","v":0.75},{"g":7,"s":"SX4.2","v":0.45},{"g":7,"s":"SX4.3","v":0.35},
{"g":8,"s":"SX4.CK.1","v":-0.2},{"g":8,"s":"SX4.CK.2","v":-0.4},{"g":8,"s":"SX4.CK.3","v":-0.55},{"g":8,"s":"SX4.1","v":0.82},{"g":8,"s":"SX4.2","v":0.7},{"g":8,"s":"SX4.3","v":0.6},
{"g":9,"s":"SX4.CK.1","v":-0.25},{"g":9,"s":"SX4.CK.2","v":-0.3},{"g":9,"s":"SX4.CK.3","v":-0.4},{"g":9,"s":"SX4.1","v":0.65},{"g":9,"s":"SX4.2","v":0.5},{"g":9,"s":"SX4.3","v":0.45},
{"g":10,"s":"SX4.CK.1","v":-0.28},{"g":10,"s":"SX4.CK.2","v":-0.45},{"g":10,"s":"SX4.CK.3","v":-0.7},{"g":10,"s":"SX4.1","v":0.5},{"g":10,"s":"SX4.2","v":0.6},{"g":10,"s":"SX4.3","v":0.75},
{"g":11,"s":"SX4.CK.1","v":-0.3},{"g":11,"s":"SX4.CK.2","v":-0.35},{"g":11,"s":"SX4.CK.3","v":-0.65},{"g":11,"s":"SX4.1","v":0.4},{"g":11,"s":"SX4.2","v":0.55},{"g":11,"s":"SX4.3","v":0.85},
{"g":12,"s":"SX4.CK.1","v":-0.33},{"g":12,"s":"SX4.CK.2","v":-0.5},{"g":12,"s":"SX4.CK.3","v":-0.8},{"g":12,"s":"SX4.1","v":0.55},{"g":12,"s":"SX4.2","v":0.65},{"g":12,"s":"SX4.3","v":0.95},
{"g":13,"s":"SX4.CK.1","v":-0.36},{"g":13,"s":"SX4.CK.2","v":-0.42},{"g":13,"s":"SX4.CK.3","v":-0.6},{"g":13,"s":"SX4.1","v":0.6},{"g":13,"s":"SX4.2","v":0.75},{"g":13,"s":"SX4.3","v":1.05},
{"g":14,"s":"SX4.CK.1","v":-0.38},{"g":14,"s":"SX4.CK.2","v":-0.55},{"g":14,"s":"SX4.CK.3","v":-0.9},{"g":14,"s":"SX4.1","v":0.45},{"g":14,"s":"SX4.2","v":0.7},{"g":14,"s":"SX4.3","v":1.15},
{"g":15,"s":"SX4.CK.1","v":-0.4},{"g":15,"s":"SX4.CK.2","v":-0.48},{"g":15,"s":"SX4.CK.3","v":-0.75},{"g":15,"s":"SX4.1","v":0.5},{"g":15,"s":"SX4.2","v":0.85},{"g":15,"s":"SX4.3","v":1.2},
{"g":16,"s":"SX4.CK.1","v":-0.42},{"g":16,"s":"SX4.CK.2","v":-0.38},{"g":16,"s":"SX4.CK.3","v":-0.5},{"g":16,"s":"SX4.1","v":0.35},{"g":16,"s":"SX4.2","v":0.4},{"g":16,"s":"SX4.3","v":0.6},
{"g":17,"s":"SX4.CK.1","v":-0.44},{"g":17,"s":"SX4.CK.2","v":-0.52},{"g":17,"s":"SX4.CK.3","v":-0.85},{"g":17,"s":"SX4.1","v":0.48},{"g":17,"s":"SX4.2","v":0.58},{"g":17,"s":"SX4.3","v":0.7},
{"g":18,"s":"SX4.CK.1","v":-0.46},{"g":18,"s":"SX4.CK.2","v":-0.45},{"g":18,"s":"SX4.CK.3","v":-0.68},{"g":18,"s":"SX4.1","v":0.42},{"g":18,"s":"SX4.2","v":0.5},{"g":18,"s":"SX4.3","v":0.55},
{"g":19,"s":"SX4.CK.1","v":-0.48},{"g":19,"s":"SX4.CK.2","v":-0.6},{"g":19,"s":"SX4.CK.3","v":-1.0},{"g":19,"s":"SX4.1","v":0.38},{"g":19,"s":"SX4.2","v":0.62},{"g":19,"s":"SX4.3","v":0.9},
{"g":20,"s":"SX4.CK.1","v":-0.5},{"g":20,"s":"SX4.CK.2","v":-0.55},{"g":20,"s":"SX4.CK.3","v":-0.72},{"g":20,"s":"SX4.1","v":0.52},{"g":20,"s":"SX4.2","v":0.48},{"g":20,"s":"SX4.3","v":0.65},
{"g":21,"s":"SX4.CK.1","v":-0.52},{"g":21,"s":"SX4.CK.2","v":-0.62},{"g":21,"s":"SX4.CK.3","v":-1.1},{"g":21,"s":"SX4.1","v":0.3},{"g":21,"s":"SX4.2","v":0.55},{"g":21,"s":"SX4.3","v":0.8},
{"g":22,"s":"SX4.CK.1","v":-0.54},{"g":22,"s":"SX4.CK.2","v":-0.48},{"g":22,"s":"SX4.CK.3","v":-0.62},{"g":22,"s":"SX4.1","v":0.58},{"g":22,"s":"SX4.2","v":0.45},{"g":22,"s":"SX4.3","v":0.5},
{"g":23,"s":"SX4.CK.1","v":-0.56},{"g":23,"s":"SX4.CK.2","v":-0.65},{"g":23,"s":"SX4.CK.3","v":-0.95},{"g":23,"s":"SX4.1","v":0.4},{"g":23,"s":"SX4.2","v":0.6},{"g":23,"s":"SX4.3","v":0.72},
{"g":24,"s":"SX4.CK.1","v":-0.58},{"g":24,"s":"SX4.CK.2","v":-0.58},{"g":24,"s":"SX4.CK.3","v":-0.8},{"g":24,"s":"SX4.1","v":0.62},{"g":24,"s":"SX4.2","v":0.72},{"g":24,"s":"SX4.3","v":0.88},
{"g":25,"s":"SX4.CK.1","v":-0.6},{"g":25,"s":"SX4.CK.2","v":-0.7},{"g":25,"s":"SX4.CK.3","v":-1.2},{"g":25,"s":"SX4.1","v":0.25},{"g":25,"s":"SX4.2","v":0.45},{"g":25,"s":"SX4.3","v":0.68},
{"g":26,"s":"SX4.CK.1","v":-0.62},{"g":26,"s":"SX4.CK.2","v":-0.55},{"g":26,"s":"SX4.CK.3","v":-0.7},{"g":26,"s":"SX4.1","v":0.35},{"g":26,"s":"SX4.2","v":0.3},{"g":26,"s":"SX4.3","v":0.45},
{"g":27,"s":"SX4.CK.1","v":-0.64},{"g":27,"s":"SX4.CK.2","v":-0.75},{"g":27,"s":"SX4.CK.3","v":-1.25},{"g":27,"s":"SX4.1","v":0.2},{"g":27,"s":"SX4.2","v":0.4},{"g":27,"s":"SX4.3","v":0.55},
{"g":28,"s":"SX4.CK.1","v":-0.66},{"g":28,"s":"SX4.CK.2","v":-0.62},{"g":28,"s":"SX4.CK.3","v":-0.88},{"g":28,"s":"SX4.1","v":0.45},{"g":28,"s":"SX4.2","v":0.52},{"g":28,"s":"SX4.3","v":0.62},
{"g":29,"s":"SX4.CK.1","v":-0.68},{"g":29,"s":"SX4.CK.2","v":-0.8},{"g":29,"s":"SX4.CK.3","v":-1.15},{"g":29,"s":"SX4.1","v":0.32},{"g":29,"s":"SX4.2","v":0.38},{"g":29,"s":"SX4.3","v":0.48},
{"g":30,"s":"SX4.CK.1","v":-0.7},{"g":30,"s":"SX4.CK.2","v":-0.68},{"g":30,"s":"SX4.CK.3","v":-0.92},{"g":30,"s":"SX4.1","v":0.55},{"g":30,"s":"SX4.2","v":0.68},{"g":30,"s":"SX4.3","v":0.78},
{"g":31,"s":"SX4.CK.1","v":-0.72},{"g":31,"s":"SX4.CK.2","v":-0.85},{"g":31,"s":"SX4.CK.3","v":-1.3},{"g":31,"s":"SX4.1","v":0.15},{"g":31,"s":"SX4.2","v":0.3},{"g":31,"s":"SX4.3","v":0.4},
{"g":32,"s":"SX4.CK.1","v":-0.75},{"g":32,"s":"SX4.CK.2","v":-0.72},{"g":32,"s":"SX4.CK.3","v":-1.05},{"g":32,"s":"SX4.1","v":0.28},{"g":32,"s":"SX4.2","v":0.42},{"g":32,"s":"SX4.3","v":0.35},
{"g":33,"s":"SX4.CK.1","v":-0.78},{"g":33,"s":"SX4.CK.2","v":-0.9},{"g":33,"s":"SX4.CK.3","v":-1.35},{"g":33,"s":"SX4.1","v":0.12},{"g":33,"s":"SX4.2","v":0.25},{"g":33,"s":"SX4.3","v":0.3},
{"g":34,"s":"SX4.CK.1","v":-0.82},{"g":34,"s":"SX4.CK.2","v":-0.78},{"g":34,"s":"SX4.CK.3","v":-1.0},{"g":34,"s":"SX4.1","v":0.22},{"g":34,"s":"SX4.2","v":0.35},{"g":34,"s":"SX4.3","v":0.28},
{"g":35,"s":"SX4.CK.1","v":-0.85},{"g":35,"s":"SX4.CK.2","v":-0.85},{"g":35,"s":"SX4.CK.3","v":-0.85},{"g":35,"s":"SX4.1","v":0.05},{"g":35,"s":"SX4.2","v":0.16},{"g":35,"s":"SX4.3","v":0.22},
{"g":36,"s":"SX4.CK.1","v":-0.91},{"g":36,"s":"SX4.CK.2","v":-0.88},{"g":36,"s":"SX4.CK.3","v":-1.2},{"g":36,"s":"SX4.1","v":0.1},{"g":36,"s":"SX4.2","v":0.2},{"g":36,"s":"SX4.3","v":0.18},
{"g":37,"s":"SX4.CK.1","v":-0.96},{"g":37,"s":"SX4.CK.2","v":-0.96},{"g":37,"s":"SX4.CK.3","v":-1.1},{"g":37,"s":"SX4.1","v":0.3},{"g":37,"s":"SX4.2","v":0.25},{"g":37,"s":"SX4.3","v":0.24},
{"g":38,"s":"SX4.CK.1","v":-1.01},{"g":38,"s":"SX4.CK.2","v":-1.01},{"g":38,"s":"SX4.CK.3","v":-1.28},{"g":38,"s":"SX4.1","v":0.18},{"g":38,"s":"SX4.2","v":0.22},{"g":38,"s":"SX4.3","v":0.15},
{"g":39,"s":"SX4.CK.1","v":-1.37},{"g":39,"s":"SX4.CK.2","v":-0.55},{"g":39,"s":"SX4.CK.3","v":-0.8},{"g":39,"s":"SX4.1","v":0.4},{"g":39,"s":"SX4.2","v":0.45},{"g":39,"s":"SX4.3","v":0.5},
{"g":40,"s":"SX4.CK.1","v":-0.6},{"g":40,"s":"SX4.CK.2","v":-1.39},{"g":40,"s":"SX4.CK.3","v":-0.7},{"g":40,"s":"SX4.1","v":0.45},{"g":40,"s":"SX4.2","v":0.6},{"g":40,"s":"SX4.3","v":0.75},
{"g":41,"s":"SX4.CK.1","v":-0.65},{"g":41,"s":"SX4.CK.2","v":-0.75},{"g":41,"s":"SX4.CK.3","v":-1.58},{"g":41,"s":"SX4.1","v":0.4},{"g":41,"s":"SX4.2","v":0.3},{"g":41,"s":"SX4.3","v":0.4},
{"g":42,"s":"SX4.CK.1","v":-0.45},{"g":42,"s":"SX4.CK.2","v":-0.6},{"g":42,"s":"SX4.CK.3","v":-0.38},{"g":42,"s":"SX4.1","v":-0.38},{"g":42,"s":"SX4.2","v":0.35},{"g":42,"s":"SX4.3","v":0.45},
{"g":43,"s":"SX4.CK.1","v":-0.5},{"g":43,"s":"SX4.CK.2","v":-0.55},{"g":43,"s":"SX4.CK.3","v":-0.75},{"g":43,"s":"SX4.1","v":0.3},{"g":43,"s":"SX4.2","v":-0.13},{"g":43,"s":"SX4.3","v":0.3},
{"g":44,"s":"SX4.CK.1","v":-0.4},{"g":44,"s":"SX4.CK.2","v":-0.5},{"g":44,"s":"SX4.CK.3","v":-0.65},{"g":44,"s":"SX4.1","v":0.55},{"g":44,"s":"SX4.2","v":0.65},{"g":44,"s":"SX4.3","v":1.4},
{"g":45,"s":"SX4.CK.1","v":-0.35},{"g":45,"s":"SX4.CK.2","v":-0.4},{"g":45,"s":"SX4.CK.3","v":-0.58},{"g":45,"s":"SX4.1","v":0.8},{"g":45,"s":"SX4.2","v":1.07},{"g":45,"s":"SX4.3","v":1.15},
{"g":46,"s":"SX4.CK.1","v":-0.3},{"g":46,"s":"SX4.CK.2","v":-0.28},{"g":46,"s":"SX4.CK.3","v":-0.45},{"g":46,"s":"SX4.1","v":0.85},{"g":46,"s":"SX4.2","v":0.99},{"g":46,"s":"SX4.3","v":1.18},
{"g":47,"s":"SX4.CK.1","v":-0.55},{"g":47,"s":"SX4.CK.2","v":-0.45},{"g":47,"s":"SX4.CK.3","v":-0.55},{"g":47,"s":"SX4.1","v":0.7},{"g":47,"s":"SX4.2","v":0.8},{"g":47,"s":"SX4.3","v":1.0},
{"g":48,"s":"SX4.CK.1","v":-0.45},{"g":48,"s":"SX4.CK.2","v":-0.35},{"g":48,"s":"SX4.CK.3","v":-0.62},{"g":48,"s":"SX4.1","v":0.62},{"g":48,"s":"SX4.2","v":0.9},{"g":48,"s":"SX4.3","v":0.92},
{"g":49,"s":"SX4.CK.1","v":-0.2},{"g":49,"s":"SX4.CK.2","v":-0.25},{"g":49,"s":"SX4.CK.3","v":-0.33},{"g":49,"s":"SX4.1","v":0.78},{"g":49,"s":"SX4.2","v":0.85},{"g":49,"s":"SX4.3","v":0.82},
{"g":50,"s":"SX4.CK.1","v":-0.58},{"g":50,"s":"SX4.CK.2","v":-0.7},{"g":50,"s":"SX4.CK.3","v":-0.98},{"g":50,"s":"SX4.1","v":0.03},{"g":50,"s":"SX4.2","v":0.07},{"g":50,"s":"SX4.3","v":0.14},
{"g":51,"s":"SX4.CK.1","v":-0.42},{"g":51,"s":"SX4.CK.2","v":-0.46},{"g":51,"s":"SX4.CK.3","v":-0.55},{"g":51,"s":"SX4.1","v":0.65},{"g":51,"s":"SX4.2","v":0.55},{"g":51,"s":"SX4.3","v":0.58},
{"g":52,"s":"SX4.CK.1","v":-0.48},{"g":52,"s":"SX4.CK.2","v":-0.58},{"g":52,"s":"SX4.CK.3","v":-0.78},{"g":52,"s":"SX4.1","v":0.48},{"g":52,"s":"SX4.2","v":0.42},{"g":52,"s":"SX4.3","v":0.52},
{"g":53,"s":"SX4.CK.1","v":-0.1},{"g":53,"s":"SX4.CK.2","v":-0.45},{"g":53,"s":"SX4.CK.3","v":-0.9},{"g":53,"s":"SX4.1","v":0.7},{"g":53,"s":"SX4.2","v":0.4},{"g":53,"s":"SX4.3","v":0.3},
{"g":54,"s":"SX4.CK.1","v":-0.6},{"g":54,"s":"SX4.CK.2","v":-0.3},{"g":54,"s":"SX4.CK.3","v":-0.5},{"g":54,"s":"SX4.1","v":0.3},{"g":54,"s":"SX4.2","v":0.75},{"g":54,"s":"SX4.3","v":0.95},
{"g":55,"s":"SX4.CK.1","v":-0.35},{"g":55,"s":"SX4.CK.2","v":-0.65},{"g":55,"s":"SX4.CK.3","v":-0.75},{"g":55,"s":"SX4.1","v":0.8},{"g":55,"s":"SX4.2","v":0.55},{"g":55,"s":"SX4.3","v":0.4},
{"g":56,"s":"SX4.CK.1","v":-0.75},{"g":56,"s":"SX4.CK.2","v":-0.5},{"g":56,"s":"SX4.CK.3","v":-1.15},{"g":56,"s":"SX4.1","v":0.55},{"g":56,"s":"SX4.2","v":0.9},{"g":56,"s":"SX4.3","v":0.7},
{"g":57,"s":"SX4.CK.1","v":-0.2},{"g":57,"s":"SX4.CK.2","v":-0.55},{"g":57,"s":"SX4.CK.3","v":-0.6},{"g":57,"s":"SX4.1","v":0.4},{"g":57,"s":"SX4.2","v":0.3},{"g":57,"s":"SX4.3","v":0.85},
{"g":58,"s":"SX4.CK.1","v":-0.5},{"g":58,"s":"SX4.CK.2","v":-0.25},{"g":58,"s":"SX4.CK.3","v":-0.95},{"g":58,"s":"SX4.1","v":0.85},{"g":58,"s":"SX4.2","v":0.65},{"g":58,"s":"SX4.3","v":0.25},
{"g":59,"s":"SX4.CK.1","v":-0.65},{"g":59,"s":"SX4.CK.2","v":-0.7},{"g":59,"s":"SX4.CK.3","v":-0.45},{"g":59,"s":"SX4.1","v":0.25},{"g":59,"s":"SX4.2","v":0.5},{"g":59,"s":"SX4.3","v":1.05},
{"g":60,"s":"SX4.CK.1","v":-0.3},{"g":60,"s":"SX4.CK.2","v":-0.6},{"g":60,"s":"SX4.CK.3","v":-1.05},{"g":60,"s":"SX4.1","v":0.6},{"g":60,"s":"SX4.2","v":0.8},{"g":60,"s":"SX4.3","v":0.45},
{"g":61,"s":"SX4.CK.1","v":-0.8},{"g":61,"s":"SX4.CK.2","v":-0.4},{"g":61,"s":"SX4.CK.3","v":-0.65},{"g":61,"s":"SX4.1","v":0.45},{"g":61,"s":"SX4.2","v":0.35},{"g":61,"s":"SX4.3","v":0.75},
{"g":62,"s":"SX4.CK.1","v":-0.45},{"g":62,"s":"SX4.CK.2","v":-0.75},{"g":62,"s":"SX4.CK.3","v":-1.2},{"g":62,"s":"SX4.1","v":0.75},{"g":62,"s":"SX4.2","v":0.6},{"g":62,"s":"SX4.3","v":0.55},
{"g":63,"s":"SX4.CK.1","v":-0.15},{"g":63,"s":"SX4.CK.2","v":-0.35},{"g":63,"s":"SX4.CK.3","v":-0.85},{"g":63,"s":"SX4.1","v":0.5},{"g":63,"s":"SX4.2","v":0.7},{"g":63,"s":"SX4.3","v":1.1},
{"g":64,"s":"SX4.CK.1","v":-0.55},{"g":64,"s":"SX4.CK.2","v":-0.5},{"g":64,"s":"SX4.CK.3","v":-0.4},{"g":64,"s":"SX4.1","v":0.35},{"g":64,"s":"SX4.2","v":0.45},{"g":64,"s":"SX4.3","v":0.2},
{"g":65,"s":"SX4.CK.1","v":-0.7},{"g":65,"s":"SX4.CK.2","v":-0.45},{"g":65,"s":"SX4.CK.3","v":-1.0},{"g":65,"s":"SX4.1","v":0.65},{"g":65,"s":"SX4.2","v":0.92},{"g":65,"s":"SX4.3","v":0.85},
{"g":66,"s":"SX4.CK.1","v":-0.25},{"g":66,"s":"SX4.CK.2","v":-0.65},{"g":66,"s":"SX4.CK.3","v":-0.55},{"g":66,"s":"SX4.1","v":0.2},{"g":66,"s":"SX4.2","v":0.55},{"g":66,"s":"SX4.3","v":0.65},
{"g":67,"s":"SX4.CK.1","v":-0.4},{"g":67,"s":"SX4.CK.2","v":-0.3},{"g":67,"s":"SX4.CK.3","v":-1.25},{"g":67,"s":"SX4.1","v":0.7},{"g":67,"s":"SX4.2","v":0.5},{"g":67,"s":"SX4.3","v":0.35},
{"g":68,"s":"SX4.CK.1","v":-0.6},{"g":68,"s":"SX4.CK.2","v":-0.78},{"g":68,"s":"SX4.CK.3","v":-0.9},{"g":68,"s":"SX4.1","v":0.55},{"g":68,"s":"SX4.2","v":0.25},{"g":68,"s":"SX4.3","v":0.6},
{"g":69,"s":"SX4.CK.1","v":-0.05},{"g":69,"s":"SX4.CK.2","v":-0.5},{"g":69,"s":"SX4.CK.3","v":-0.7},{"g":69,"s":"SX4.1","v":0.35},{"g":69,"s":"SX4.2","v":0.62},{"g":69,"s":"SX4.3","v":0.95},
{"g":70,"s":"SX4.CK.1","v":-0.35},{"g":70,"s":"SX4.CK.2","v":-0.2},{"g":70,"s":"SX4.CK.3","v":-0.8},{"g":70,"s":"SX4.1","v":0.8},{"g":70,"s":"SX4.2","v":0.75},{"g":70,"s":"SX4.3","v":0.5},
{"g":71,"s":"SX4.CK.1","v":-0.82},{"g":71,"s":"SX4.CK.2","v":-0.62},{"g":71,"s":"SX4.CK.3","v":-0.6},{"g":71,"s":"SX4.1","v":0.4},{"g":71,"s":"SX4.2","v":0.45},{"g":71,"s":"SX4.3","v":0.8},
{"g":72,"s":"SX4.CK.1","v":-0.5},{"g":72,"s":"SX4.CK.2","v":-0.4},{"g":72,"s":"SX4.CK.3","v":-1.1},{"g":72,"s":"SX4.1","v":0.6},{"g":72,"s":"SX4.2","v":0.35},{"g":72,"s":"SX4.3","v":0.42}
]
},
"hconcat": [
{
 "title": {"text": "(a)", "anchor": "start", "frame": "bounds", "font": "Liberation Serif", "fontSize": 54, "fontWeight": "bold", "offset": -42},
 "width": 845, "height": 657,
 "layer": [
  {"data": {"name": "a"}, "mark": {"type": "line", "color": "#d3d3d3", "strokeWidth": 2.7},
   "encoding": {
    "x": {"field": "s", "type": "ordinal", "sort": ["SX4.CK.1","SX4.CK.2","SX4.CK.3","SX4.1","SX4.2","SX4.3"], "scale": {"type": "point", "padding": 0.2},
          "axis": {"title": null, "labelAngle": -90, "labelFontSize": 28, "tickSize": 19, "tickWidth": 3, "domain": false, "labelPadding": 20}},
    "y": {"field": "v", "type": "quantitative", "scale": {"domain": [-1.97, 1.86], "nice": false, "zero": false},
          "axis": {"values": [-1.5,-1,-0.5,0,0.5,1,1.5], "format": ".1f", "labelAngle": -90, "labelFontSize": 28, "tickSize": 19, "tickWidth": 3, "domain": false, "labelPadding": 18, "title": "centered log2(fpkm+1)", "titleFontSize": 29, "titleFontWeight": "normal", "titlePadding": 37}},
    "detail": {"field": "g", "type": "nominal"}
   }},
  {"data": {"name": "am"}, "mark": {"type": "line", "color": "#0000ff", "strokeWidth": 3},
   "encoding": {
    "x": {"field": "s", "type": "ordinal", "sort": ["SX4.CK.1","SX4.CK.2","SX4.CK.3","SX4.1","SX4.2","SX4.3"],
          "axis": {"orient": "top", "title": "subcluster_1, 329 genes", "labels": false, "ticks": false, "domain": false, "titleFontSize": 38, "titleFontWeight": "bold", "titlePadding": 36}},
    "y": {"field": "v", "type": "quantitative"}
   }},
  {"data": {"name": "am"}, "mark": {"type": "point", "shape": "circle", "filled": false, "color": "#0000ff", "size": 165, "strokeWidth": 3, "opacity": 1},
   "encoding": {
    "x": {"field": "s", "type": "ordinal", "sort": ["SX4.CK.1","SX4.CK.2","SX4.CK.3","SX4.1","SX4.2","SX4.3"], "axis": null},
    "y": {"field": "v", "type": "quantitative"}
   }}
 ],
 "resolve": {"axis": {"x": "independent"}}
},
{
 "title": {"text": "(b)", "anchor": "start", "frame": "bounds", "font": "Liberation Serif", "fontSize": 54, "fontWeight": "bold", "offset": -42},
 "width": 839, "height": 657,
 "layer": [
  {"data": {"name": "b"}, "mark": {"type": "line", "color": "#d3d3d3", "strokeWidth": 2.7},
   "encoding": {
    "x": {"field": "s", "type": "ordinal", "sort": ["SX4.CK.1","SX4.CK.2","SX4.CK.3","SX4.1","SX4.2","SX4.3"], "scale": {"type": "point", "padding": 0.2},
          "axis": {"title": null, "labelAngle": -90, "labelFontSize": 28, "tickSize": 19, "tickWidth": 3, "domain": false, "labelPadding": 20}},
    "y": {"field": "v", "type": "quantitative", "scale": {"domain": [-1.71, 1.51], "nice": false, "zero": false},
          "axis": {"values": [-1.5,-1,-0.5,0,0.5,1,1.5], "format": ".1f", "labelAngle": -90, "labelFontSize": 28, "tickSize": 19, "tickWidth": 3, "domain": false, "labelPadding": 18, "title": "centered log2(fpkm+1)", "titleFontSize": 29, "titleFontWeight": "normal", "titlePadding": 37}},
    "detail": {"field": "g", "type": "nominal"}
   }},
  {"data": {"name": "bm"}, "mark": {"type": "line", "color": "#0000ff", "strokeWidth": 3},
   "encoding": {
    "x": {"field": "s", "type": "ordinal", "sort": ["SX4.CK.1","SX4.CK.2","SX4.CK.3","SX4.1","SX4.2","SX4.3"],
          "axis": {"orient": "top", "title": "subcluster_2, 116 genes", "labels": false, "ticks": false, "domain": false, "titleFontSize": 38, "titleFontWeight": "bold", "titlePadding": 36}},
    "y": {"field": "v", "type": "quantitative"}
   }},
  {"data": {"name": "bm"}, "mark": {"type": "point", "shape": "circle", "filled": false, "color": "#0000ff", "size": 165, "strokeWidth": 3, "opacity": 1},
   "encoding": {
    "x": {"field": "s", "type": "ordinal", "sort": ["SX4.CK.1","SX4.CK.2","SX4.CK.3","SX4.1","SX4.2","SX4.3"], "axis": null},
    "y": {"field": "v", "type": "quantitative"}
   }}
 ],
 "resolve": {"axis": {"x": "independent"}}
}
]
}
